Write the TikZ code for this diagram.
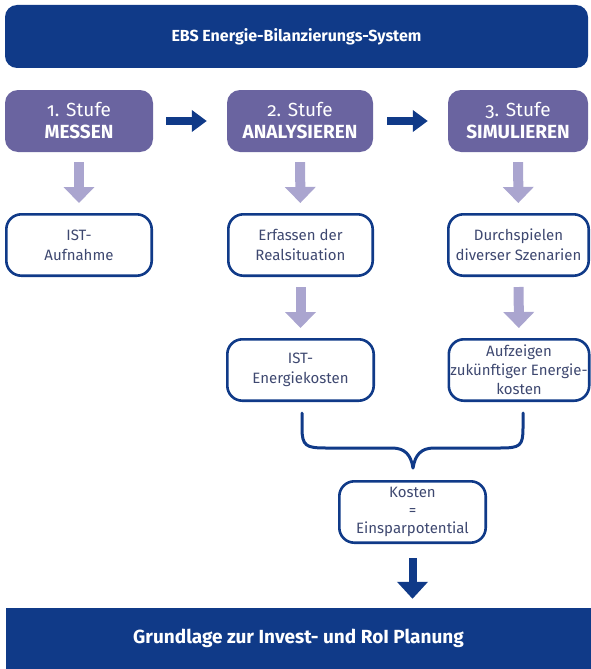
\documentclass[tikz,border=0pt]{standalone}
\usepackage{fontspec}
\setmainfont{Fira Sans}[Numbers=OldStyle]
\usetikzlibrary{arrows.meta}

\definecolor{ebsblau}{RGB}{16,58,136}
\definecolor{stufelila}{RGB}{106,100,160}
\definecolor{hellila}{RGB}{170,165,207}
\definecolor{feldschrift}{RGB}{62,72,112}

\begin{document}
\begin{tikzpicture}[x=1pt,y=-1pt,
    balken/.style={fill=ebsblau,text=white,inner sep=0pt,
      font=\fontsize{16}{19}\selectfont\bfseries},
    stufe/.style={fill=stufelila,text=white,rounded corners=13pt,align=center,
      inner sep=0pt,minimum height=62pt,font=\fontsize{19}{22}\selectfont},
    feld/.style={draw=ebsblau,line width=2.6pt,rounded corners=15pt,text=feldschrift,
      align=center,inner sep=0pt,minimum height=61.4pt,font=\fontsize{15}{20}\selectfont},
    runter/.style={hellila,line width=10pt,-{Triangle[width=30pt,length=16pt]},
      shorten <=10pt,shorten >=10pt},
    weiter/.style={ebsblau,line width=7.5pt,-{Triangle[width=21pt,length=15pt]}},
    klammer/.style={ebsblau,line width=3pt,line cap=round,line join=round}]
    \useasboundingbox (0,0) rectangle (591,669);

    \node[balken,rounded corners=12pt,minimum width=583pt,minimum height=63pt] (ebs) at (296.5,36.5)
        {EBS Energie-Bilanzierungs-System};

    \node[stufe,minimum width=148pt] (messen) at (79,121) {1. Stufe\\\textbf{\fontsize{19}{22}\selectfont MESSEN}};
    \node[stufe,minimum width=146pt] (analyse) at (300,121) {2. Stufe\\\textbf{\fontsize{19}{22}\selectfont ANALYSIEREN}};
    \node[stufe,minimum width=140pt] (simul) at (518,121) {3. Stufe\\\textbf{\fontsize{19}{22}\selectfont SIMULIEREN}};

    \node[feld,minimum width=145.4pt] (ist) at (79,245) {IST-\\Aufnahme};
    \node[feld,minimum width=144.4pt] (real) at (300.5,245) {Erfassen der\\Realsituation};
    \node[feld,minimum width=140.4pt] (szen) at (518.5,245) {Durchspielen\\diverser Szenarien};

    \node[feld,minimum width=146.4pt] (istkost) at (300.5,370) {IST-\\Energiekosten};
    \node[feld,minimum width=140.4pt,font=\fontsize{15}{19}\selectfont] (zukunft) at (519,370)
        {Aufzeigen\\zukünftiger Energie-\\kosten};

    \node[feld,minimum width=146.4pt,font=\fontsize{15}{18}\selectfont] (kosten) at (412.5,512)
        {Kosten\\=\\Einsparpotential};

    \node[balken,minimum width=585pt,minimum height=61pt,font=\fontsize{19}{22}\selectfont\bfseries] (plan) at (298.5,638.5)
        {Grundlage zur Invest- und RoI Planung};

    \draw[weiter,shorten <=13pt,shorten >=20pt] (messen) -- (analyse);
    \draw[weiter,shorten <=14pt,shorten >=20pt] (analyse) -- (simul);

    \draw[runter] (messen) -- (ist);
    \draw[runter] (analyse) -- (real);
    \draw[runter] (simul) -- (szen);
    \draw[runter] (real) -- (istkost);
    \draw[runter] (szen) -- (zukunft);

    % Klammer
    \coordinate (spitze) at (413,468);
    \draw[klammer] (302,413) -- (302,428) .. controls (302,446) and (306,448) .. (326,448)
        -- (392,448) .. controls (405,448) and (411,455) .. (spitze);
    \draw[klammer] (523,413) -- (523,428) .. controls (523,446) and (520,448) .. (500,448)
        -- (434,448) .. controls (421,448) and (415,455) .. (spitze);

    \draw[ebsblau,line width=8pt,-{Triangle[width=30pt,length=17pt]},shorten <=14pt,shorten >=9pt]
        (kosten.south) -- (kosten.south |- plan.north);
\end{tikzpicture}
\end{document}
